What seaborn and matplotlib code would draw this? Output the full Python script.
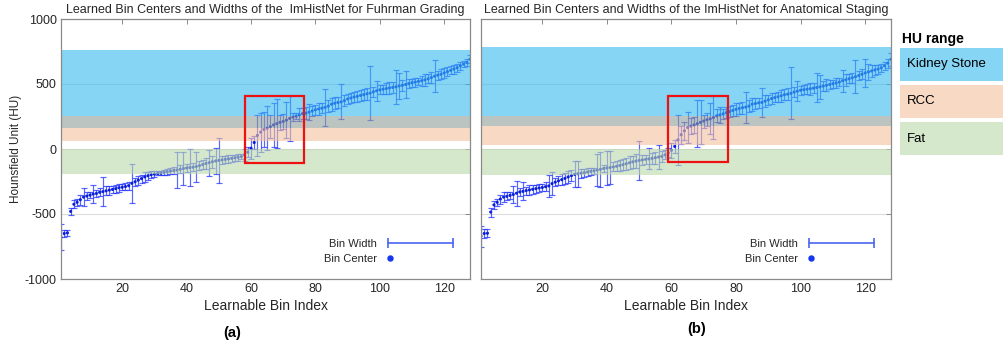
import numpy as np
import pandas as pd
import matplotlib
matplotlib.use("Agg")
import matplotlib.pyplot as plt
import seaborn as sns
from matplotlib.patches import Rectangle
from matplotlib.lines import Line2D
from matplotlib.legend_handler import HandlerLine2D

sns.set_theme(style="white")
plt.rcParams["font.family"] = ["Liberation Sans", "DejaVu Sans"]
plt.rcParams["axes.unicode_minus"] = False

# ---------------------------------------------------------------- data
bin_index = list(range(1, 129))

centers_fuhrman = [
    -680, -650, -645, -480, -425, -410, -390, -370, -362, -355,
    -347, -342, -333, -328, -322, -316, -311, -305, -298, -294,
    -289, -282, -264, -252, -240, -228, -215, -206, -198, -193,
    -188, -186, -180, -175, -170, -166, -162, -156, -150, -146,
    -143, -140, -135, -128, -120, -112, -105, -98, -92, -88,
    -84, -80, -76, -72, -68, -64, -58, -45, -25, 5,
    50, 105, 130, 150, 160, 172, 185, 195, 205, 212,
    222, 235, 245, 252, 262, 272, 275, 283, 292, 302,
    308, 314, 320, 330, 345, 352, 358, 362, 372, 385,
    392, 400, 405, 412, 418, 425, 430, 440, 448, 455,
    460, 465, 470, 474, 478, 485, 490, 496, 503, 510,
    515, 520, 525, 532, 540, 550, 560, 568, 575, 585,
    595, 605, 615, 625, 640, 652, 665, 690,
]
halfwidth_fuhrman = [
    100, 30, 25, 25, 30, 25, 40, 70, 30, 25,
    70, 25, 30, 110, 35, 35, 30, 30, 30, 25,
    25, 30, 150, 30, 35, 30, 35, 30, 25, 20,
    15, 15, 20, 25, 25, 30, 140, 30, 130, 30,
    140, 30, 115, 35, 35, 40, 100, 45, 100, 175,
    30, 30, 30, 25, 25, 25, 20, 45, 40, 80,
    50, 160, 150, 135, 170, 90, 170, 190, 60, 60,
    140, 170, 30, 25, 50, 40, 45, 60, 35, 40,
    45, 40, 140, 45, 50, 45, 40, 135, 45, 40,
    40, 35, 40, 45, 40, 45, 210, 40, 75, 35,
    35, 40, 45, 40, 130, 100, 40, 105, 35, 30,
    35, 30, 40, 45, 35, 40, 125, 35, 40, 35,
    35, 30, 35, 30, 30, 25, 25, 30,
]

centers_staging = [
    -670, -650, -648, -485, -430, -410, -385, -370, -364, -357,
    -350, -340, -330, -326, -320, -315, -310, -305, -300, -296,
    -290, -284, -266, -255, -245, -236, -226, -215, -205, -195,
    -190, -186, -182, -177, -172, -168, -162, -156, -150, -146,
    -142, -138, -133, -127, -120, -113, -106, -99, -93, -88,
    -84, -80, -76, -72, -67, -62, -57, -45, -30, -10,
    20, 70, 110, 140, 165, 175, 185, 195, 205, 215,
    225, 232, 242, 255, 262, 270, 280, 288, 296, 305,
    312, 318, 322, 330, 345, 350, 355, 358, 368, 378,
    388, 395, 402, 410, 418, 422, 428, 438, 445, 452,
    456, 460, 464, 468, 473, 478, 484, 490, 496, 502,
    508, 515, 525, 532, 540, 548, 556, 565, 575, 585,
    593, 600, 608, 615, 625, 640, 660, 690,
]
halfwidth_staging = [
    80, 35, 30, 35, 30, 25, 35, 40, 30, 30,
    65, 95, 30, 70, 30, 35, 35, 30, 30, 30,
    35, 85, 90, 30, 35, 40, 40, 45, 40, 100,
    100, 35, 30, 30, 25, 25, 125, 135, 30, 130,
    130, 35, 40, 40, 45, 45, 50, 45, 55, 150,
    40, 35, 80, 40, 45, 90, 40, 35, 35, 60,
    50, 190, 70, 70, 120, 60, 60, 180, 170, 50,
    50, 120, 165, 50, 60, 40, 45, 40, 45, 50,
    40, 45, 120, 45, 50, 45, 40, 115, 45, 40,
    40, 35, 40, 45, 40, 45, 200, 40, 75, 35,
    35, 40, 45, 40, 110, 90, 40, 45, 35, 30,
    35, 30, 85, 45, 35, 40, 125, 35, 40, 110,
    60, 45, 40, 35, 30, 30, 35, 50,
]

# HU ranges of the reference tissues (low, high)
hu_labels = ["Kidney Stone", "RCC", "Fat"]
hu_low_fuhrman = [165, 60, -195]
hu_high_fuhrman = [765, 255, 0]
hu_low_staging = [178, 30, -200]
hu_high_staging = [785, 255, 0]

# highlighted transition region (bin from, bin to, HU from, HU to)
roi_fuhrman = [58, 76.5, -105, 405]
roi_staging = [59, 77.5, -100, 405]

titles = [
    "Learned Bin Centers and Widths of the  ImHistNet for Fuhrman Grading",
    "Learned Bin Centers and Widths of the ImHistNet for Anatomical Staging",
]
panel_tags = ["(a)", "(b)"]

# ---------------------------------------------------------------- style
band_colors = {"Kidney Stone": "#35B9EE", "RCC": "#F3C09D", "Fat": "#BBD9AA"}
overlap_color = "#8F9E96"
legend_colors = {"Kidney Stone": "#86D5F5", "RCC": "#F8D9C4", "Fat": "#D6E8CC"}
band_alpha = 0.6
bar_color = "#2233ff"
dot_color = "#0a1fd8"
spine_color = "#8a8a8a"
text_color = "#262626"
fs = 9

W, H = 1004, 352
fig = plt.figure(figsize=(W / 100, H / 100), dpi=100)


def fig_box(x0, y0, x1, y1):
    """pixel box (top-left origin) -> figure fraction rect"""
    return [x0 / W, 1 - y1 / H, (x1 - x0) / W, (y1 - y0) / H]


ax_a = fig.add_axes(fig_box(61, 19, 470, 279))
ax_b = fig.add_axes(fig_box(481, 19, 891, 279))


class LeftDotHandler(HandlerLine2D):
    def get_xdata(self, legend, xdescent, ydescent, width, height, fontsize):
        x = np.array([-xdescent + 0.2 * fontsize])
        return x, x


def draw_panel(ax, centers, halfw, lows, highs, roi, title, show_ylabels):
    df = pd.DataFrame({"bin": bin_index, "center": centers, "halfwidth": halfw})

    ax.errorbar(df["bin"], df["center"], yerr=df["halfwidth"], fmt="none",
                ecolor=bar_color, elinewidth=0.85, capsize=2.4, capthick=0.85,
                alpha=0.75, zorder=1)
    sns.scatterplot(data=df, x="bin", y="center", ax=ax, s=5, color=dot_color,
                    edgecolor="none", linewidth=0, zorder=1.5, legend=False)

    # tissue bands; the stone/RCC intersection gets its own tone
    lo = dict(zip(hu_labels, lows))
    hi = dict(zip(hu_labels, highs))
    ov_lo = max(lo["Kidney Stone"], lo["RCC"])
    ov_hi = min(hi["Kidney Stone"], hi["RCC"])
    ax.axhspan(ov_hi, hi["Kidney Stone"], color=band_colors["Kidney Stone"],
               alpha=band_alpha, lw=0, zorder=2)
    ax.axhspan(ov_lo, ov_hi, color=overlap_color, alpha=band_alpha, lw=0, zorder=2)
    ax.axhspan(lo["RCC"], ov_lo, color=band_colors["RCC"], alpha=band_alpha,
               lw=0, zorder=2)
    ax.axhspan(lo["Fat"], hi["Fat"], color=band_colors["Fat"], alpha=band_alpha,
               lw=0, zorder=2)

    ax.add_patch(Rectangle((roi[0], roi[2]), roi[1] - roi[0], roi[3] - roi[2],
                           fill=False, edgecolor="#ee1111", lw=1.6, zorder=4))

    ax.set_xlim(1, 128)
    ax.set_ylim(-1000, 1000)
    ax.set_xticks([20, 40, 60, 80, 100, 120])
    ax.set_yticks([-1000, -500, 0, 500, 1000])
    ax.yaxis.grid(True, color="#dcdcdc", lw=0.8)
    ax.xaxis.grid(False)
    ax.set_axisbelow(True)
    ax.tick_params(direction="in", length=3.5, width=0.7, top=True, right=True,
                   colors=spine_color, labelcolor=text_color, labelsize=fs, pad=3)
    if not show_ylabels:
        ax.tick_params(labelleft=False)
    for sp in ax.spines.values():
        sp.set_color(spine_color)
        sp.set_linewidth(0.9)
        sp.set_zorder(5)

    ax.set_title(title, fontsize=fs, color=text_color, pad=4)
    ax.set_xlabel("Learnable Bin Index", fontsize=10, color=text_color)
    ax.xaxis.set_label_coords(0.5, -0.075)
    if show_ylabels:
        ax.set_ylabel("Hounsfield Unit (HU)", fontsize=8.5, color=text_color)
        ax.yaxis.set_label_coords(-0.095, 0.5)
    else:
        ax.set_ylabel("")

    width_handle = Line2D([], [], color="#4a66f2", lw=1.2, marker="|",
                          markersize=7, markeredgewidth=1.2)
    center_handle = Line2D([], [], color="#1535f0", ls="none", marker="o",
                           markersize=3.6)
    ax.legend([width_handle, center_handle], ["Bin Width", "Bin Center"],
              loc="lower right", bbox_to_anchor=(0.982, 0.018), frameon=False,
              markerfirst=False, handlelength=5.85, handletextpad=1.0,
              labelspacing=0.45, fontsize=8, labelcolor=text_color,
              handler_map={width_handle: HandlerLine2D(numpoints=2, marker_pad=0),
                           center_handle: LeftDotHandler()})


draw_panel(ax_a, centers_fuhrman, halfwidth_fuhrman, hu_low_fuhrman,
           hu_high_fuhrman, roi_fuhrman, titles[0], True)
draw_panel(ax_b, centers_staging, halfwidth_staging, hu_low_staging,
           hu_high_staging, roi_staging, titles[1], False)

fig.text(232 / W, 1 - 333 / H, panel_tags[0], fontsize=10.5, fontweight="bold",
         ha="center", va="center", color="black")
fig.text(697 / W, 1 - 329 / H, panel_tags[1], fontsize=10.5, fontweight="bold",
         ha="center", va="center", color="black")

# side key of the HU ranges
fig.text(902 / W, 1 - 39 / H, "HU range", fontsize=10, fontweight="bold",
         ha="left", va="center", color="black")
key_rows = [(48, 81), (85, 118), (122, 155)]
for name, (top, bottom) in zip(hu_labels, key_rows):
    fig.add_artist(Rectangle((900 / W, 1 - bottom / H), 104 / W, (bottom - top) / H,
                             transform=fig.transFigure, facecolor=legend_colors[name],
                             edgecolor="none"))
    fig.text(907 / W, 1 - (top + bottom) / 2 / H, name, fontsize=9.5,
             ha="left", va="center", color="black")

fig.savefig("out.png", dpi=100)
